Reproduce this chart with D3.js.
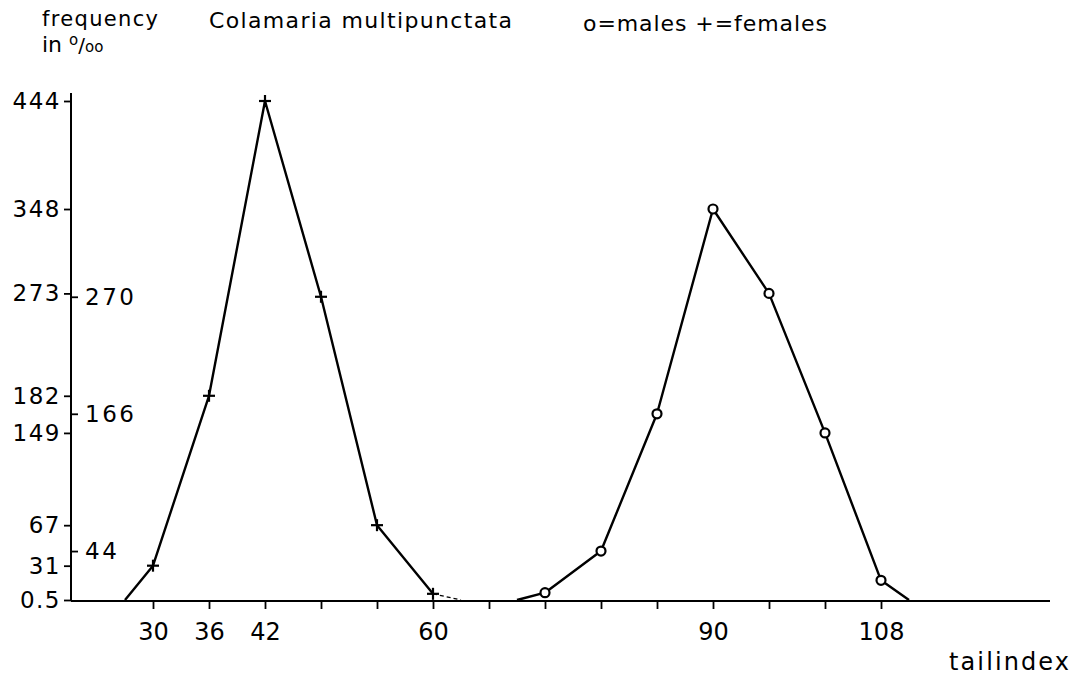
<!DOCTYPE html>
<html>
<head>
<meta charset="utf-8">
<script src="https://cdn.jsdelivr.net/npm/d3@7/dist/d3.min.js"></script>
<style>
  html, body { margin: 0; padding: 0; background: #fff; }
  svg { display: block; }
  text { font-family: "DejaVu Sans", sans-serif; fill: #000; }
</style>
</head>
<body>
<svg id="chart" width="1083" height="678"></svg>
<script>
// Tail index classes (x) and frequency in per mille (y)
const xTicks = [30, 36, 42, 48, 54, 60, 66, 72, 78, 84, 90, 96, 102, 108];
const xTickLabels = [30, 36, 42, 60, 90, 108];
const yTicksLeft = [444, 348, 273, 182, 149, 67, 31, 0.5];
const yTicksRight = [270, 166, 44];

// Females (+)
const femaleIndex = [27, 30, 36, 42, 48, 54, 60];
const femaleFreq  = [0.5, 31, 182, 444, 270, 67, 6];
// Females: short dashed run-out after the last class
const femaleTailIndex = [60, 63];
const femaleTailFreq  = [6, 0.5];

// Males (o)
const maleIndex = [69, 72, 78, 84, 90, 96, 102, 108, 111];
const maleFreq  = [0.5, 7, 44, 166, 348, 273, 149, 18, 0.5];

const svg = d3.select("#chart");

const x = d3.scaleLinear().domain([30, 108]).range([153, 881]);
const y = d3.scaleLinear().domain([0.5, 444]).range([600, 101]);

const axisX = 71;
const baseY = y(0.5);

// Horizontal axis
svg.append("line")
  .attr("x1", axisX).attr("x2", 1050)
  .attr("y1", baseY + 1).attr("y2", baseY + 1)
  .attr("stroke", "#000").attr("stroke-width", 2);

const xAxis = d3.axisBottom(x)
  .tickValues(xTicks)
  .tickSize(8)
  .tickFormat(d => xTickLabels.includes(d) ? d : "");
const gx = svg.append("g")
  .attr("transform", `translate(0,${baseY + 1})`)
  .call(xAxis);
gx.select(".domain").remove();
gx.selectAll(".tick line").attr("stroke", "#000").attr("stroke-width", 1.8);
gx.selectAll(".tick text")
  .attr("y", 32)
  .attr("dy", "0.3em")
  .style("font-size", "24px")
  .style("font-family", "DejaVu Sans, sans-serif")
  .attr("fill", "#000");

// Vertical axis
svg.append("line")
  .attr("x1", axisX).attr("x2", axisX)
  .attr("y1", 93).attr("y2", baseY + 1)
  .attr("stroke", "#000").attr("stroke-width", 2);

const yAxisL = d3.axisLeft(y)
  .tickValues(yTicksLeft)
  .tickSize(7)
  .tickPadding(3)
  .tickFormat(d => d === 0.5 ? "0.5" : d);
const gyl = svg.append("g")
  .attr("transform", `translate(${axisX},0)`)
  .call(yAxisL);
gyl.select(".domain").remove();
gyl.selectAll(".tick line").attr("stroke", "#000").attr("stroke-width", 1.8);
gyl.selectAll(".tick text")
  .style("font-size", "23px")
  .style("letter-spacing", "1.5px")
  .style("font-family", "DejaVu Sans, sans-serif")
  .attr("fill", "#000");

const yAxisR = d3.axisRight(y)
  .tickValues(yTicksRight)
  .tickSize(7)
  .tickPadding(7);
const gyr = svg.append("g")
  .attr("transform", `translate(${axisX},0)`)
  .call(yAxisR);
gyr.select(".domain").remove();
gyr.selectAll(".tick line").attr("stroke", "#000").attr("stroke-width", 1.8);
gyr.selectAll(".tick text")
  .style("font-size", "23px")
  .style("letter-spacing", "2.5px")
  .style("font-family", "DejaVu Sans, sans-serif")
  .attr("fill", "#000");

// Polygons
const line = d3.line().x(d => x(d[0])).y(d => y(d[1]));
const females = d3.zip(femaleIndex, femaleFreq);
const males = d3.zip(maleIndex, maleFreq);
const femaleTail = d3.zip(femaleTailIndex, femaleTailFreq);

svg.append("path").datum(females).attr("d", line)
  .attr("fill", "none").attr("stroke", "#000").attr("stroke-width", 2.4)
  .attr("stroke-linejoin", "round");
svg.append("path").datum(femaleTail).attr("d", line)
  .attr("fill", "none").attr("stroke", "#000").attr("stroke-width", 1.2)
  .attr("stroke-dasharray", "4,3");
svg.append("path").datum(males).attr("d", line)
  .attr("fill", "none").attr("stroke", "#000").attr("stroke-width", 2.4)
  .attr("stroke-linejoin", "round");

// Markers: + for females, o for males (measured classes only)
const femalePts = females.filter(d => d[0] >= 30 && d[0] <= 60);
const malePts = males.filter(d => d[0] >= 72 && d[0] <= 108);

const plus = svg.append("g").selectAll("g").data(femalePts).join("g")
  .attr("transform", d => `translate(${x(d[0])},${y(d[1])})`);
plus.append("line").attr("x1", -6).attr("x2", 6).attr("y1", 0).attr("y2", 0)
  .attr("stroke", "#000").attr("stroke-width", 2.2);
plus.append("line").attr("x1", 0).attr("x2", 0).attr("y1", -6).attr("y2", 6)
  .attr("stroke", "#000").attr("stroke-width", 2.2);

svg.append("g").selectAll("circle").data(malePts).join("circle")
  .attr("cx", d => x(d[0])).attr("cy", d => y(d[1]))
  .attr("r", 4.5)
  .attr("fill", "#fff").attr("stroke", "#000").attr("stroke-width", 2.2);

// Header texts
svg.append("text").attr("x", 42).attr("y", 26)
  .attr("textLength", 116)
  .style("font-size", "21px").text("frequency");
const unit = svg.append("text").attr("x", 42).attr("y", 52).style("font-size", "22px");
unit.append("tspan").text("in ");
unit.append("tspan").attr("dy", -7).style("font-size", "15px").text("o");
unit.append("tspan").attr("dy", 7).style("font-size", "20px").text("/");
unit.append("tspan").style("font-size", "15px").text("oo");

svg.append("text").attr("x", 209).attr("y", 28)
  .attr("textLength", 303)
  .style("font-size", "22px").text("Colamaria multipunctata");

svg.append("text").attr("x", 583).attr("y", 31)
  .attr("textLength", 244)
  .style("font-size", "22px").text("o=males   +=females");

svg.append("text").attr("x", 949).attr("y", 670)
  .attr("textLength", 120)
  .style("font-size", "24px").text("tailindex");
</script>
</body>
</html>
